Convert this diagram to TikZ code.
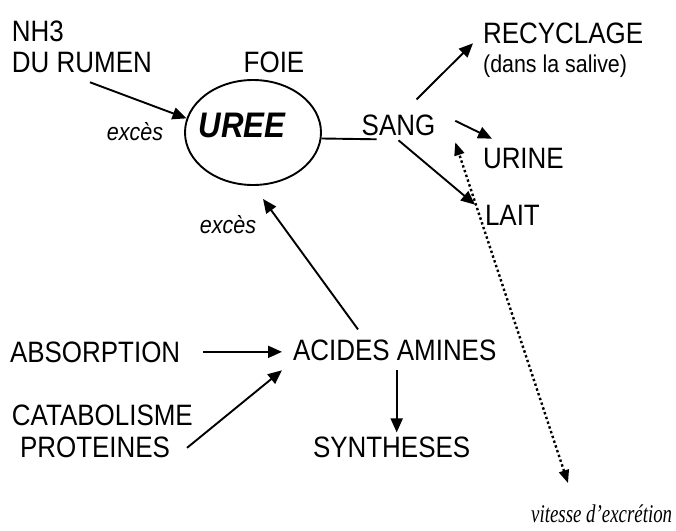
\documentclass[tikz,border=0pt]{standalone}
\usepackage{fontspec}
\setmainfont{Liberation Sans}[FakeStretch=0.88]
\newfontfamily\vitfont{Liberation Serif}[FakeStretch=0.74]
\usetikzlibrary{arrows.meta,calc,shapes.geometric}
\begin{document}
\begin{tikzpicture}[x=1pt,y=-1pt,
  lbl/.style={inner sep=0pt, outer sep=0pt, font=\fontsize{29.5}{33}\selectfont},
  smalllbl/.style={inner sep=0pt, outer sep=0pt, font=\fontsize{24.5}{28}\selectfont\itshape},
  arr/.style={line width=1.9pt, -{Triangle[length=14pt,width=12pt]}},
  dotarr/.style={line width=2.4pt, dash pattern=on 2.4pt off 2.6pt,
    {Triangle[length=13pt,width=10pt]}-{Triangle[length=13pt,width=10pt]}},
  plain/.style={line width=1.9pt}]
\fill[white] (0,0) rectangle (676,530);
\useasboundingbox (0,0) rectangle (676,530);
% nodes
\node[lbl, anchor=base west] (nh3) at (12,41.5) {NH3};
\node[lbl, anchor=base west] (rumen) at (12,72) {DU RUMEN};
\node[lbl, anchor=base] (foie) at (274,72) {FOIE};
\node[draw, ellipse, line width=1.9pt, minimum width=136pt, minimum height=105pt, inner sep=0pt] (uree) at (253,132.5) {};
\node[inner sep=0pt, anchor=base, font=\fontsize{35.5}{40}\selectfont\bfseries\itshape] (ureelbl) at (242,137) {UREE};
\node[smalllbl, anchor=base] (exces1) at (135,140) {excès};
\node[lbl, anchor=base] (sang) at (398.5,135) {SANG};
\node[lbl, anchor=base west] (recyc) at (483,43) {RECYCLAGE};
\node[inner sep=0pt, anchor=base west, font=\fontsize{24.3}{28}\selectfont] (salive) at (483,72) {(dans la salive)};
\node[lbl, anchor=base west] (urine) at (483,168) {URINE};
\node[lbl, anchor=base west] (lait) at (485,225) {LAIT};
\node[smalllbl, anchor=base] (exces2) at (228,233) {excès};
\node[lbl, anchor=base west] (absorp) at (10,362) {ABSORPTION};
\node[lbl, anchor=base west] (acides) at (293,360) {ACIDES AMINES};
\node[lbl, anchor=base west] (catab) at (12,425) {CATABOLISME};
\node[lbl, anchor=base west] (prot) at (20,457) {PROTEINES};
\node[lbl, anchor=base west] (synth) at (313,457) {SYNTHESES};
\node[inner sep=0pt, anchor=base west, font=\fontsize{25.5}{30}\selectfont\vitfont\itshape] (vit) at (531,522) {vitesse d’excrétion};
% connectors
\draw[arr] ($(rumen.south west)+(78,10)$) -- (uree.168);
\draw[arr] ($(acides.north west)+(65,-10)$) -- ($(uree.south)+(10,13)$);
\draw[plain] (uree.-5.5) -- ($(sang.south west)+(15,4)$);
\draw[arr] ($(sang.north)+(18,-15)$) -- ($(recyc.south west)+(-10,0)$);
\draw[arr] ($(sang.east)+(20,-4)$) -- ($(urine.north west)+(9,-9)$);
\draw[arr] ($(sang.south)+(0,5)$) -- ($(lait.north west)+(-10,0)$);
\draw[dotarr] ($(vit.north west)+(37,-21)$) -- ($(sang.south east)+(20,7)$);
\draw[arr, shorten <=23pt, shorten >=11pt] (absorp.east) -- (absorp.east -| acides.west);
\draw[arr] ($(prot.east)+(17,1)$) -- ($(acides.south west)+(-11,10)$);
\coordinate (a9s) at ($(acides.south)+(2,10)$);
\draw[arr, shorten >=4pt] (a9s) -- (a9s |- synth.north);
\end{tikzpicture}
\end{document}
